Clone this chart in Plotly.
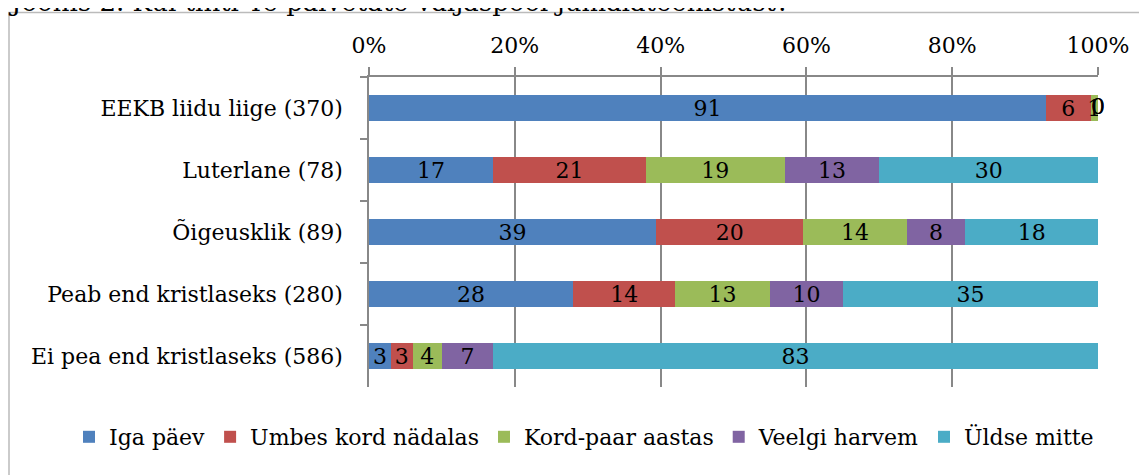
import plotly.graph_objects as go

categories = ["EEKB liidu liige (370)", "Luterlane (78)", "Õigeusklik (89)",
              "Peab end kristlaseks (280)", "Ei pea end kristlaseks (586)"]
series_names = ["Iga päev", "Umbes kord nädalas", "Kord-paar aastas", "Veelgi harvem", "Üldse mitte"]
iga_paev = [91, 17, 39, 28, 3]
umbes_kord_nadalas = [6, 21, 20, 14, 3]
kord_paar_aastas = [1, 19, 14, 13, 4]
veelgi_harvem = [0, 13, 8, 10, 7]
uldse_mitte = [0, 30, 18, 35, 83]
tick_values = [0, 20, 40, 60, 80, 100]
title_text = "Joonis 2. Kui tihti Te palvetate väljaspool jumalateenistust?"

colors = ["#4F81BD", "#C0504D", "#9BBB59", "#8064A2", "#4BACC6"]
FONT = "DejaVu Serif"
FS = 22

series = [iga_paev, umbes_kord_nadalas, kord_paar_aastas, veelgi_harvem, uldse_mitte]

fig = go.Figure()
for name, vals, col in zip(series_names, series, colors):
    fig.add_trace(go.Bar(
        y=categories, x=vals, name=name, orientation="h",
        marker=dict(color=col, line=dict(width=0)),
        text=[str(v) if v > 0 else "" for v in vals],
        textposition="inside", insidetextanchor="middle", constraintext="none",
        textangle=0,
        textfont=dict(family=FONT, size=FS, color="black"),
        hoverinfo="skip",
    ))

# labels of zero-valued segments (zero-width bars carry no text in plotly)
zx, zy, zt = [], [], []
for i, cat in enumerate(categories):
    total = sum(s[i] for s in series)
    cum = 0
    for s in series:
        if s[i] == 0:
            zx.append(cum / total * 100)
            zy.append(cat)
            zt.append("0")
        cum += s[i]
fig.add_trace(go.Scatter(x=zx, y=zy, text=zt, mode="text", showlegend=False,
                         textfont=dict(family=FONT, size=FS, color="black"),
                         hoverinfo="skip", cliponaxis=False))

# page has an 8px body margin: convert page pixels to figure pixels
OFF = 8
W, H = 1147, 475
L = 369 - OFF
T = 77 - OFF
R = W - (1098 - OFF)
B = H - (387 - OFF)
pw, ph = W - L - R, H - T - B

def px(xp):  # page x -> paper
    return (xp - OFF - L) / pw

def py(yp):  # page y -> paper
    return (H - B - (yp - OFF)) / ph

fig.update_layout(
    width=W, height=H,
    margin=dict(l=L, r=R, t=T, b=B, pad=0, autoexpand=False),
    barmode="stack", barnorm="percent", bargap=0.58,
    paper_bgcolor="white", plot_bgcolor="white",
    font=dict(family=FONT, size=FS, color="black"),
    showlegend=True,
    legend=dict(orientation="h", x=px(69), xanchor="left", y=py(437), yanchor="middle",
                font=dict(family=FONT, size=FS, color="black"), traceorder="normal",
                itemwidth=30, tracegroupgap=0, bgcolor="rgba(0,0,0,0)"),
    xaxis=dict(side="top", range=[0, 100.0001], tickvals=tick_values,
               ticktext=[f"{v}%" for v in tick_values],
               showgrid=True, gridcolor="#888888", gridwidth=1.5,
               showline=True, linecolor="#888888", linewidth=1.5,
               ticks="outside", ticklen=8, tickcolor="#888888", tickwidth=1.5,
               ticklabelstandoff=5,
               zeroline=False, fixedrange=True, automargin=False,
               tickfont=dict(family=FONT, size=FS, color="black")),
    yaxis=dict(categoryorder="array", categoryarray=categories, autorange="reversed",
               showline=True, linecolor="#888888", linewidth=1.5,
               ticks="outside", tickson="boundaries", ticklen=7, tickcolor="#888888", tickwidth=1.5,
               ticklabelstandoff=20, showgrid=False, zeroline=False, fixedrange=True,
               automargin=False, tickfont=dict(family=FONT, size=FS, color="black")),
    shapes=[dict(type="rect", xref="paper", yref="paper",
                 x0=px(9), x1=px(1180), y0=py(520), y1=py(12.5),
                 line=dict(color="#BBBBBB", width=1.5), fillcolor="rgba(0,0,0,0)", layer="below")],
    annotations=[dict(text=title_text, xref="paper", yref="paper", x=px(6), xanchor="left",
                      y=py(19), yanchor="bottom", showarrow=False,
                      font=dict(family=FONT, size=26, color="black"))],
)

fig.write_html("out.html")
